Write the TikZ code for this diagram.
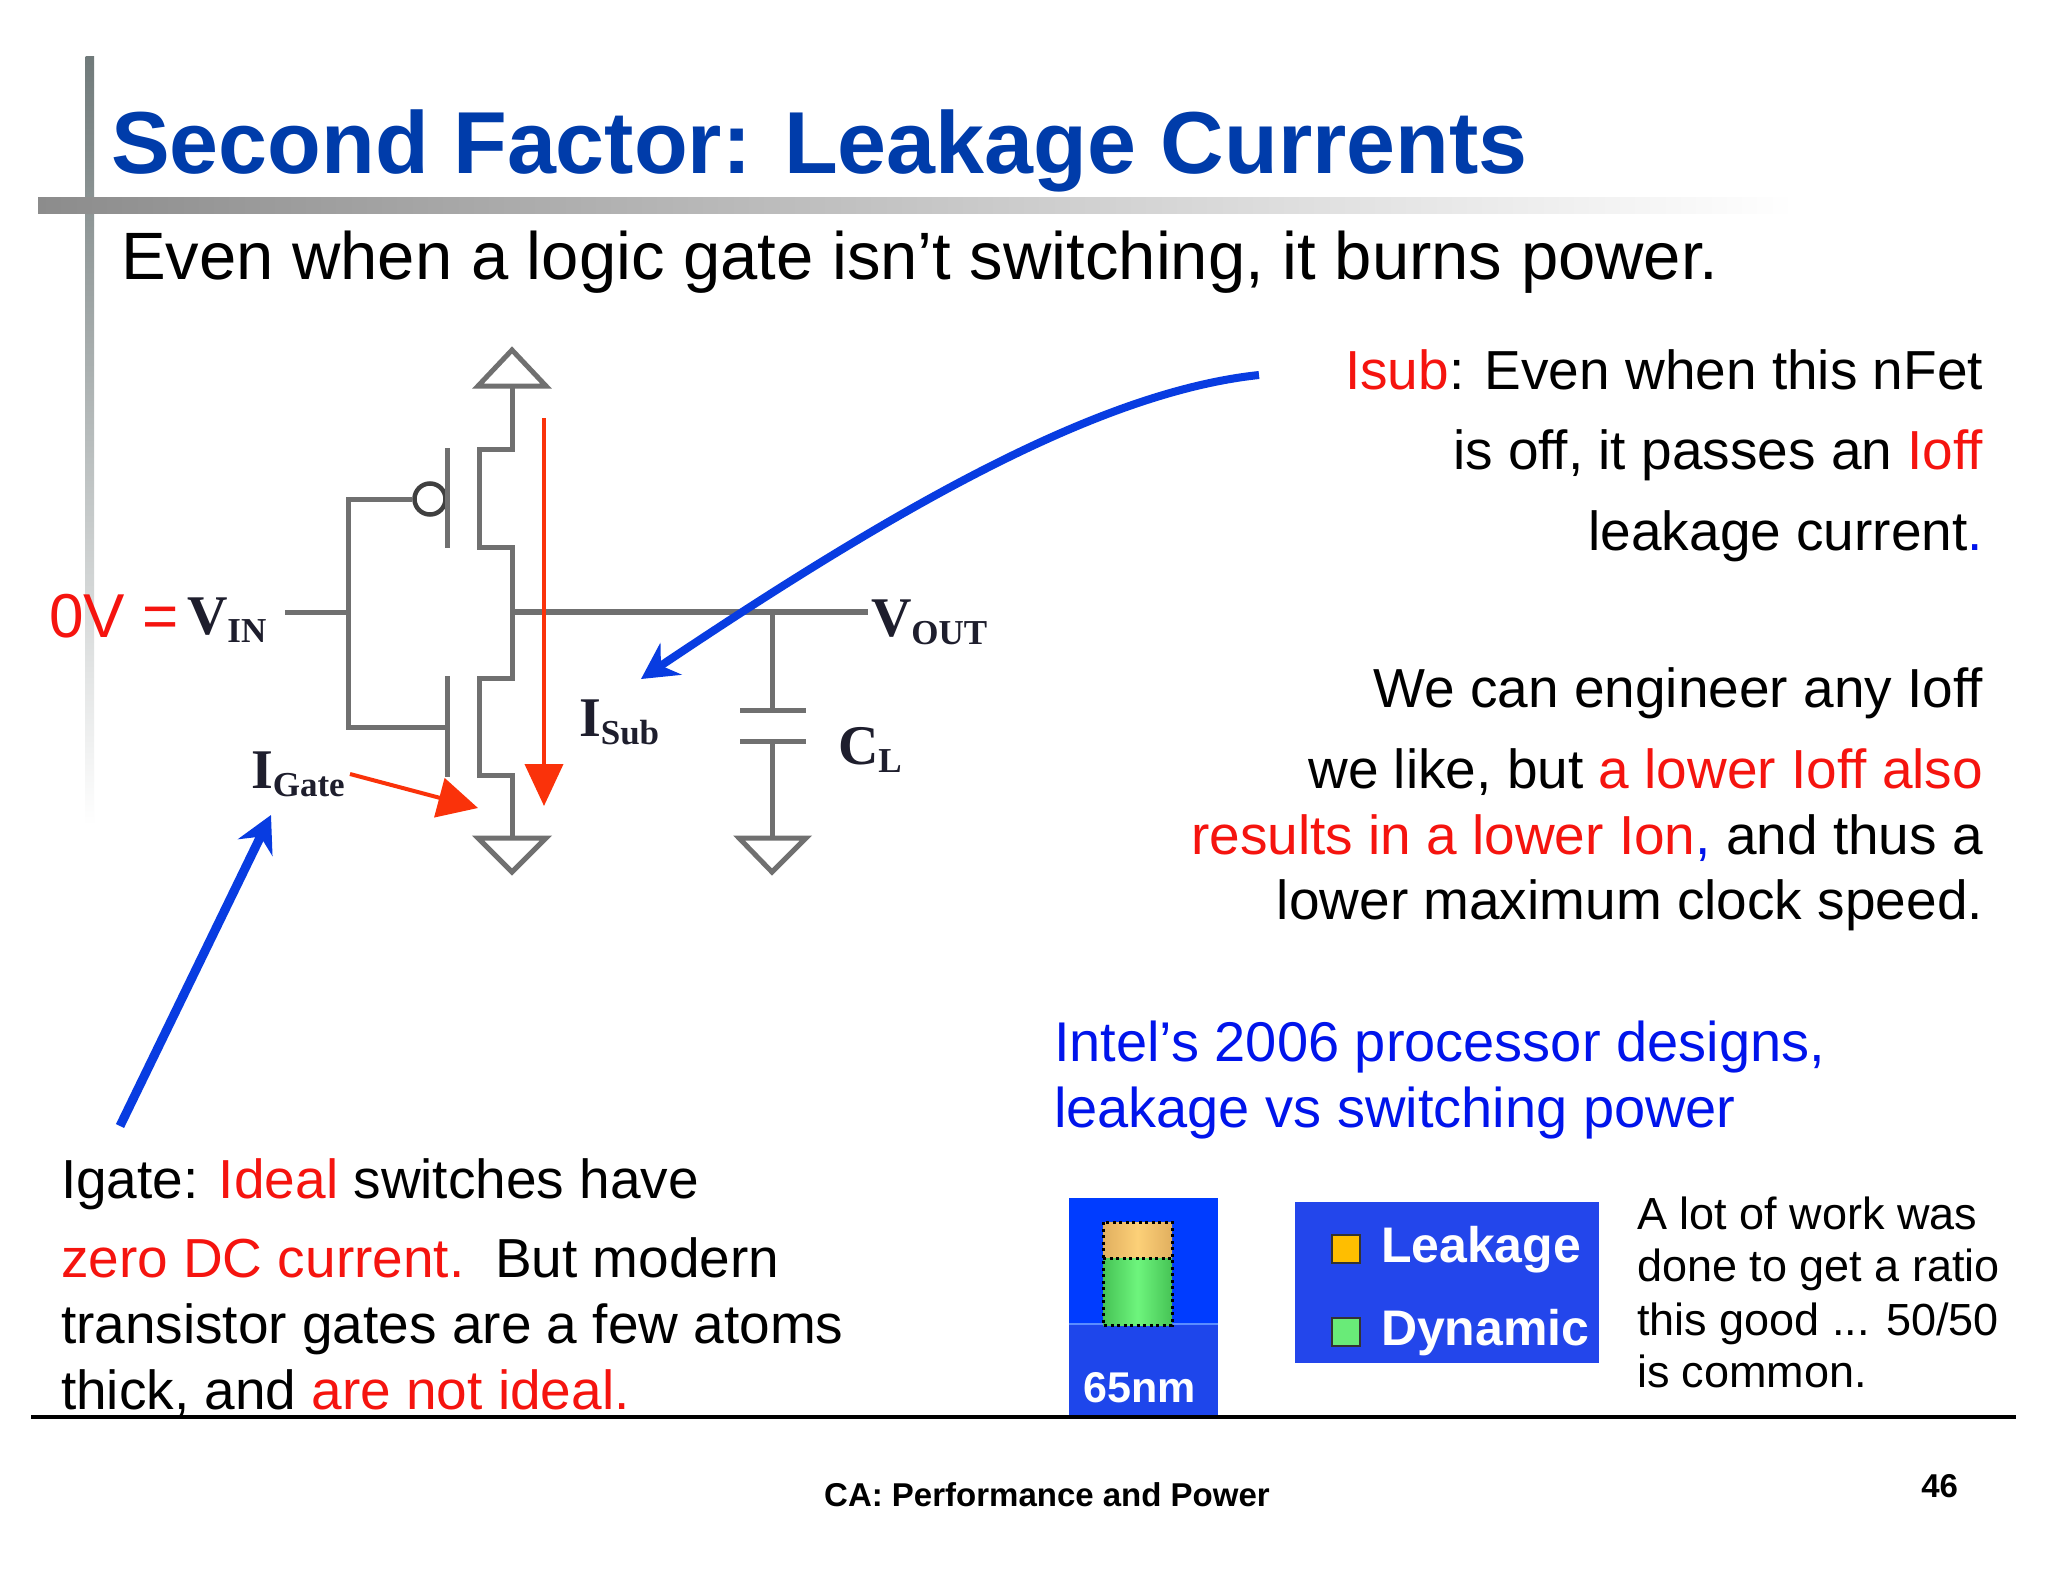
\documentclass[tikz,border=0pt]{standalone}
\usepackage{fontspec}
\setmainfont{Liberation Sans}
\newfontfamily\serifx{Liberation Serif}
\usetikzlibrary{arrows.meta}
\definecolor{titleblue}{RGB}{0,60,170}
\definecolor{redtxt}{RGB}{245,20,15}
\definecolor{bluetxt}{RGB}{0,20,235}
\definecolor{arrowblue}{RGB}{8,60,225}
\definecolor{wire}{RGB}{112,112,112}
\definecolor{redarrow}{RGB}{250,50,10}
\definecolor{labelink}{RGB}{30,30,45}
\definecolor{barlo}{RGB}{30,70,235}
\definecolor{barhi}{RGB}{0,60,255}
\definecolor{barline}{RGB}{90,140,255}
\definecolor{legbg}{RGB}{35,70,235}
\definecolor{oredge}{RGB}{225,175,95}
\definecolor{ormid}{RGB}{252,208,120}
\definecolor{gredge}{RGB}{70,195,85}
\definecolor{grmid}{RGB}{110,245,125}
\definecolor{swor}{RGB}{255,190,0}
\definecolor{swgr}{RGB}{105,235,120}
\definecolor{vbartop}{RGB}{112,122,122}
\definecolor{hbarleft}{RGB}{140,140,140}
\newcommand{\fs}[1]{\fontsize{#1}{#1}\selectfont}
\newcommand{\rd}[1]{\textcolor{redtxt}{#1}}
\newcommand{\bl}[1]{\textcolor{bluetxt}{#1}}
\newcommand{\cirlabel}[2]{{\serifx\bfseries\fs{56}#1\lower8pt\hbox{\fs{35}#2}}}
\tikzset{
  txt/.style={inner sep=0pt,outer sep=0pt,text=black},
  lw/.style={txt,anchor=base west},
  re/.style={txt,anchor=base east},
  wireline/.style={draw=wire,line width=5pt,line join=miter},
  bigblue/.style={draw=arrowblue,line width=8pt,-{Stealth[length=36pt,width=38pt,inset=12pt]}},
  redline/.style={draw=redarrow,line width=4pt},
  legend/.style={txt,anchor=base west,text=white,font=\bfseries\fs{50}},
  swatch/.style={draw=black!80,line width=2.5pt,minimum width=28pt,minimum height=28pt,inner sep=0pt}
}
\begin{document}
\begin{tikzpicture}[x=1pt,y=-1pt]
\fill[white] (0,0) rectangle (2048,1582);
\useasboundingbox (0,0) rectangle (2048,1582);
% decoration bars
\shade[top color=vbartop,bottom color=white] (85.5,56) rectangle (94,825);
\shade[left color=hbarleft,right color=white] (38,197) rectangle (1795,213);
% title and intro
\node[lw,text=titleblue,font=\bfseries\fs{88}] (title) at (111,173) {Second Factor: Leakage Currents};
\node[lw,font=\fs{67}] (intro) at (121,279) {Even when a logic gate isn’t switching, it burns power.};
% circuit
\coordinate (vddapex) at (512,350);
\coordinate (railtop) at (512,386);
\coordinate (railbot) at (512,838);
\coordinate (outL) at (512,612);
\coordinate (outR) at (868,612);
\coordinate (inL) at (285,612);
\coordinate (inR) at (348,612);
\coordinate (capT) at (772,710);
\coordinate (capB) at (772,741);
\draw[wireline,line join=miter] (478,386) -- (vddapex) -- (546,386) -- cycle;
\draw[wireline] (railtop) -- (512,449) -- (479,449) -- (479,547) -- (512,547) -- (512,678) -- (479,678) -- (479,775) -- (512,775) -- (railbot);
\draw[wireline] (478,838) -- (546,838) -- (512,872) -- cycle;
\node[draw=black!75,line width=4.5pt,circle,minimum size=31pt,inner sep=0pt] (bubble) at (430,499) {};
\draw[wireline] (447,448) -- (447,548);
\draw[wireline] (447,676) -- (447,777);
\draw[wireline] (bubble.west) -- (348,499) -- (348,727) -- (447,727);
\draw[wireline] (inL) -- (inR);
\draw[wireline,line width=6.5pt] (outL) -- (outR);
\draw[wireline] (772,612) -- (capT);
\draw[wireline] (740,710) -- (806,710);
\draw[wireline] (740,741) -- (806,741);
\draw[wireline] (capB) -- (772,838);
\draw[wireline] (739,838) -- (806,838) -- (772,872) -- cycle;
% circuit labels
\node[lw,text=redtxt,font=\fs{62}] (zero) at (49,637) {0V =};
\node[lw,text=labelink] (vin) at (187,634) {\cirlabel{V}{IN}};
\node[lw,text=labelink] (vout) at (871,636) {\cirlabel{V}{OUT}};
\node[lw,text=labelink] (isub) at (579,736) {\cirlabel{I}{Sub}};
\node[lw,text=labelink] (cl) at (838,764) {\cirlabel{C}{L}};
\node[lw,text=labelink] (igate) at (251,788) {\cirlabel{I}{Gate}};
% red arrows
\coordinate (isubA) at (544,418);
\coordinate (isubB) at (544,806);
\draw[redline,-{Triangle[length=42pt,width=38pt]}] (isubA) -- (isubB);
\coordinate (igateA) at (350,774);
\coordinate (igateB) at (478,808);
\draw[redline,-{Triangle[length=40pt,width=40pt]}] (igateA) -- (igateB);
% blue arrows
\coordinate (subFrom) at (1259,375);
\coordinate (subTip) at (641,679);
\draw[bigblue] (subFrom) .. controls (1100,392) and (900,505) .. (subTip);
\coordinate (gateFrom) at (120,1126);
\coordinate (gateTip) at (271,815);
\draw[bigblue,line width=9pt] (gateFrom) -- (gateTip);
% right-hand text
\node[re,font=\fs{55}] (r1) at (1983,389) {\rd{Isub}: Even when this nFet};
\node[re,font=\fs{55}] (r2) at (1983,469) {is off, it passes an \rd{Ioff}};
\node[re,font=\fs{55}] (r3) at (1983,550) {leakage current\bl{.}};
\node[re,font=\fs{55}] (r4) at (1983,707) {We can engineer any Ioff};
\node[re,font=\fs{55}] (r5) at (1983,788) {we like, but \rd{a lower Ioff also}};
\node[re,font=\fs{55}] (r6) at (1983,854) {\rd{results in a lower Ion}\bl{,} and thus a};
\node[re,font=\fs{55}] (r7) at (1983,919) {lower maximum clock speed.};
% intel text
\node[lw,text=bluetxt,font=\fs{56}] (i1) at (1054,1061) {Intel’s 2006 processor designs,};
\node[lw,text=bluetxt,font=\fs{56}] (i2) at (1054,1127) {leakage vs switching power};
% left text
\node[lw,font=\fs{55}] (g1) at (61,1198) {Igate: \rd{Ideal} switches have};
\node[lw,font=\fs{55}] (g2) at (61,1277) {\rd{zero DC current.}\ \ But modern};
\node[lw,font=\fs{55}] (g3) at (61,1343) {transistor gates are a few atoms};
\node[lw,font=\fs{55}] (g4) at (61,1409) {thick, and \rd{are not ideal.}};
% bar picture
\fill[barlo] (1069,1198) rectangle (1218,1419);
\fill[barhi] (1069,1198) rectangle (1218,1324);
\draw[barline,line width=2pt] (1069,1324) -- (1218,1324);
\shade[left color=oredge,right color=oredge,middle color=ormid] (1103,1222) rectangle (1172,1258);
\shade[left color=gredge,right color=gredge,middle color=grmid] (1103,1258) rectangle (1172,1325);
\draw[black,line width=3pt,dash pattern=on 3pt off 3.5pt] (1103,1222) rectangle (1172,1325);
\draw[black,line width=3pt,dash pattern=on 3pt off 3.5pt] (1103,1258) -- (1172,1258);
\node[txt,anchor=base,text=white,font=\bfseries\fs{43}] (nm) at (1140,1402) {65nm};
% legend picture
\fill[legbg] (1294.5,1202) rectangle (1599,1363);
\node[swatch,fill=swor] (sw1) at (1346,1249) {};
\node[swatch,fill=swgr] (sw2) at (1346,1332) {};
\node[legend] (leg1) at (1381,1262) {Leakage};
\node[legend] (leg2) at (1381,1345) {Dynamic};
% small text
\node[lw,font=\fs{45}] (s1) at (1637,1229) {A lot of work was};
\node[lw,font=\fs{45}] (s2) at (1637,1281) {done to get a ratio};
\node[lw,font=\fs{45}] (s3) at (1637,1335) {this good ... 50/50};
\node[lw,font=\fs{45}] (s4) at (1637,1387) {is common.};
% footer
\draw[black,line width=3.5pt] (31,1417) -- (2016,1417);
\node[txt,anchor=base,font=\bfseries\fs{33}] (foot) at (1047,1506) {CA: Performance and Power};
\node[re,font=\bfseries\fs{33}] (page) at (1958,1497) {46};
\end{tikzpicture}
\end{document}
